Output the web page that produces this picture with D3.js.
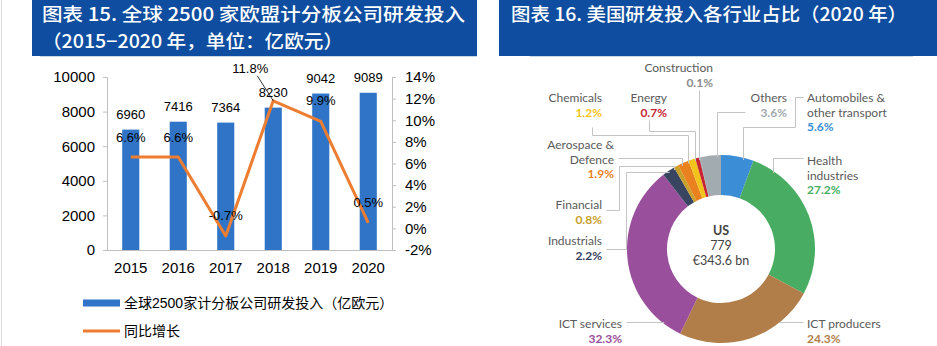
<!DOCTYPE html>
<html>
<head>
<meta charset="utf-8">
<script src="https://cdn.jsdelivr.net/npm/d3@7"></script>
<style>
  body { margin: 0; background: #fff; }
  svg { display: block; }
</style>
</head>
<body>
<script>
// ---- data: chart 15 (left) ----
var years = ["2015", "2016", "2017", "2018", "2019", "2020"];
var rdInvest = [6960, 7416, 7364, 8230, 9042, 9089];   // 亿欧元
var growth = [6.6, 6.6, -0.7, 11.8, 9.9, 0.5];          // %
var leftTicks = [0, 2000, 4000, 6000, 8000, 10000];
var rightTicks = [-2, 0, 2, 4, 6, 8, 10, 12, 14];
var seriesNames = ["全球2500家计分板公司研发投入（亿欧元）", "同比增长"];

// ---- data: chart 16 (right) ----
var sectors = ["Automobiles &\nother transport", "Health\nindustries", "ICT producers", "ICT services",
               "Industrials", "Financial", "Aerospace &\nDefence", "Chemicals", "Energy", "Construction", "Others"];
var shares = [5.6, 27.2, 24.3, 32.3, 2.2, 0.8, 1.9, 1.2, 0.7, 0.1, 3.6];
var sectorColors = ["#3b8ed6", "#48ad62", "#b17e49", "#9a4f9c", "#394460", "#c8a12b",
                    "#e9811f", "#f2c31a", "#c62531", "#8c8c8c", "#a2abb0"];
var centerLines = ["US", "779", "€343.6 bn"];

var W = 937, H = 346;
var cjk = "'Liberation Sans', Arial, 'Noto Sans CJK SC', sans-serif";

var svg = d3.select("body").append("svg")
    .attr("width", W)
    .attr("height", H)
    .style("font-family", cjk);

// faint page edge on the left
svg.append("line").attr("x1", 1.5).attr("x2", 1.5).attr("y1", 0).attr("y2", H)
   .attr("stroke", "#d9d9d9");

// ---- title bars ----
var titleBlue = "#0e4d9f";
svg.append("rect").attr("x", 32).attr("y", 0).attr("width", 445).attr("height", 56).attr("fill", titleBlue);
svg.append("rect").attr("x", 499).attr("y", 0).attr("width", W - 499).attr("height", 56).attr("fill", titleBlue);
svg.append("line").attr("x1", 40).attr("x2", 477).attr("y1", 56.5).attr("y2", 56.5).attr("stroke", "#c9d5e8");
svg.append("line").attr("x1", 530).attr("x2", 913).attr("y1", 56.5).attr("y2", 56.5).attr("stroke", "#c9d5e8");

var titleFont = "'Noto Sans CJK SC', 'Liberation Sans', sans-serif";
function title(xPos, yPos, len, str) {
  svg.append("text").attr("x", xPos).attr("y", yPos)
     .attr("fill", "#fff").style("font-family", titleFont).style("font-size", "18.5px").style("font-weight", 500)
     .attr("textLength", len).attr("lengthAdjust", "spacingAndGlyphs")
     .text(str);
}
title(42, 21, 423, "图表 15. 全球  2500  家欧盟计分板公司研发投入");
title(42, 48, 301, "（2015−2020 年，单位：亿欧元）");
title(511, 21, 396, "图表 16. 美国研发投入各行业占比（2020 年）");

// ---- left chart: bars + line ----
var plot = { left: 107, right: 392, top: 77, bottom: 250 };

var x = d3.scaleBand()
    .domain(years)
    .range([plot.left, plot.right])
    .paddingInner(0.64)
    .paddingOuter(0.32);

var yL = d3.scaleLinear().domain([0, 10000]).range([plot.bottom, plot.top]);
var yR = d3.scaleLinear().domain([-2, 14]).range([plot.bottom, plot.top]);

var axisColor = "#bfbfbf";

// left axis
var gL = svg.append("g").attr("transform", "translate(" + plot.left + ",0)")
    .call(d3.axisLeft(yL).tickValues(leftTicks).tickSize(4).tickPadding(8).tickFormat(d3.format("d")));
// right axis
var gR = svg.append("g").attr("transform", "translate(" + plot.right + ",0)")
    .call(d3.axisRight(yR).tickValues(rightTicks).tickSize(4).tickPadding(9).tickFormat(function(d) { return d + "%"; }));
// bottom axis (categories)
var gB = svg.append("g").attr("transform", "translate(0," + plot.bottom + ")")
    .call(d3.axisBottom(x).tickSize(0).tickPadding(12));

[gL, gR, gB].forEach(function(g) {
  g.select(".domain").attr("stroke", axisColor);
  g.selectAll(".tick line").attr("stroke", axisColor);
  g.selectAll(".tick text").attr("fill", "#000").style("font-size", "15px").style("font-family", cjk);
});
gB.select(".domain").attr("d", "M" + (plot.left - 4) + ",0.5H" + plot.right);

// bars
svg.append("g").selectAll("rect")
    .data(rdInvest)
    .enter().append("rect")
    .attr("x", function(d, i) { return x(years[i]); })
    .attr("y", function(d) { return yL(d); })
    .attr("width", x.bandwidth())
    .attr("height", function(d) { return yL(0) - yL(d); })
    .attr("fill", "#2f74c6");

// growth line
var cx = function(i) { return x(years[i]) + x.bandwidth() / 2; };
var line = d3.line()
    .x(function(d, i) { return cx(i); })
    .y(function(d) { return yR(d); });

svg.append("path")
    .datum(growth)
    .attr("d", line)
    .attr("fill", "none")
    .attr("stroke", "#ed7d31")
    .attr("stroke-width", 3)
    .attr("stroke-linejoin", "round");

// bar value labels
svg.append("g").selectAll("text")
    .data(rdInvest)
    .enter().append("text")
    .attr("x", function(d, i) { return cx(i); })
    .attr("y", function(d) { return yL(d) - 11; })
    .attr("text-anchor", "middle")
    .style("font-size", "13px")
    .text(function(d) { return d; });

// growth labels (2018 one is pulled up-left with a leader)
var pctShift = [[0, -15], [0, -15], [0, -16], [-23, -28], [0, -16], [0, -16]];
svg.append("line")
    .attr("x1", cx(3) - 16).attr("y1", yR(growth[3]) - 25)
    .attr("x2", cx(3)).attr("y2", yR(growth[3]))
    .attr("stroke", "#000").attr("stroke-width", 0.8);
svg.append("g").selectAll("text")
    .data(growth)
    .enter().append("text")
    .attr("x", function(d, i) { return cx(i) + pctShift[i][0]; })
    .attr("y", function(d, i) { return yR(d) + pctShift[i][1]; })
    .attr("text-anchor", "middle")
    .style("font-size", "13px")
    .text(function(d) { return d.toFixed(1) + "%"; });

// legend
var leg = svg.append("g").style("font-size", "14px");
leg.append("rect").attr("x", 83).attr("y", 299.5).attr("width", 37).attr("height", 7).attr("fill", "#2f74c6");
leg.append("text").attr("x", 124).attr("y", 308).text(seriesNames[0]);
leg.append("line").attr("x1", 83).attr("x2", 120).attr("y1", 331).attr("y2", 331)
   .attr("stroke", "#ed7d31").attr("stroke-width", 3);
leg.append("text").attr("x", 124).attr("y", 336).text(seriesNames[1]);

// ---- right chart: donut ----
var dc = { x: 721, y: 249 }, R = 94, r0 = 54;
var pie = d3.pie().sort(null).value(function(d) { return d; });
var arc = d3.arc().innerRadius(r0).outerRadius(R);
var arcs = pie(shares);

var donut = svg.append("g").attr("transform", "translate(" + dc.x + "," + dc.y + ")");
donut.selectAll("path")
    .data(arcs)
    .enter().append("path")
    .attr("d", arc)
    .attr("fill", function(d, i) { return sectorColors[i]; });

var sans = "Lato, 'Open Sans', sans-serif";
donut.append("g").selectAll("text")
    .data(centerLines)
    .enter().append("text")
    .attr("x", 0)
    .attr("y", function(d, i) { return -14 + i * 15; })
    .attr("text-anchor", "middle")
    .attr("fill", "#444")
    .style("font-family", sans)
    .style("font-size", "12.5px")
    .style("font-weight", function(d, i) { return i == 0 ? 700 : 400; })
    .text(function(d) { return d; });

// label placement + leader routes (last step runs to the ring)
function ringY(px) { return dc.y - Math.sqrt(R * R - (px - dc.x) * (px - dc.x)); }
function ringX(py, side) { return dc.x + side * Math.sqrt(R * R - (py - dc.y) * (py - dc.y)); }

var labelLayout = [
  { anchor: "start", x: 807, y: 102, route: [[803, 97], [795, 97], [795, 127], [743, 127]], to: "v" },
  { anchor: "start", x: 807, y: 165, route: [[803, 158], [773, 158]], to: "v" },
  { anchor: "start", x: 807, y: 328, route: [[803, 322]], to: "hR" },
  { anchor: "end", x: 622, y: 328, route: [[626, 322]], to: "hL" },
  { anchor: "end", x: 602, y: 245, route: [[606, 249], [626, 249], [626, 172]], to: "hL" },
  { anchor: "end", x: 602, y: 209, route: [[606, 210], [619, 210], [619, 166], [674, 166]], to: "v" },
  { anchor: "end", x: 614, y: 149, route: [[618, 158], [682, 158]], to: "v" },
  { anchor: "end", x: 602, y: 102, route: [[592, 127], [592, 135], [688, 135]], to: "v" },
  { anchor: "end", x: 667, y: 102, route: [[649, 120], [649, 131], [695, 131]], to: "v" },
  { anchor: "end", x: 713, y: 72, route: [[699, 90]], to: "v" },
  { anchor: "end", x: 787, y: 102, route: [[745, 112], [717, 112]], to: "v" }
];

var leaders = svg.append("g").attr("fill", "none").attr("stroke", "#c4c4c4").attr("stroke-width", 1);
var labels = svg.append("g").style("font-family", sans).style("font-size", "12px");

sectors.forEach(function(name, i) {
  var L = labelLayout[i];
  var pts = L.route.slice();
  var last = pts[pts.length - 1];
  if (L.to == "v") pts.push([last[0], ringY(last[0]) + 2]);
  if (L.to == "hL") pts.push([ringX(last[1], -1) + 2, last[1]]);
  if (L.to == "hR") pts.push([ringX(last[1], 1) - 2, last[1]]);
  leaders.append("path").attr("d", d3.line()(pts.map(function(p) { return [p[0] + 0.5, p[1] + 0.5]; })));

  var lines = name.split("\n");
  var t = labels.append("text").attr("text-anchor", L.anchor);
  lines.forEach(function(s, k) {
    t.append("tspan").attr("x", L.x).attr("y", L.y + k * 14.5).attr("fill", "#5a5a5a").text(s);
  });
  t.append("tspan").attr("x", L.x).attr("y", L.y + lines.length * 14.5)
    .attr("fill", sectorColors[i]).style("font-weight", 700)
    .text(shares[i].toFixed(1) + "%");
});
</script>
</body>
</html>
